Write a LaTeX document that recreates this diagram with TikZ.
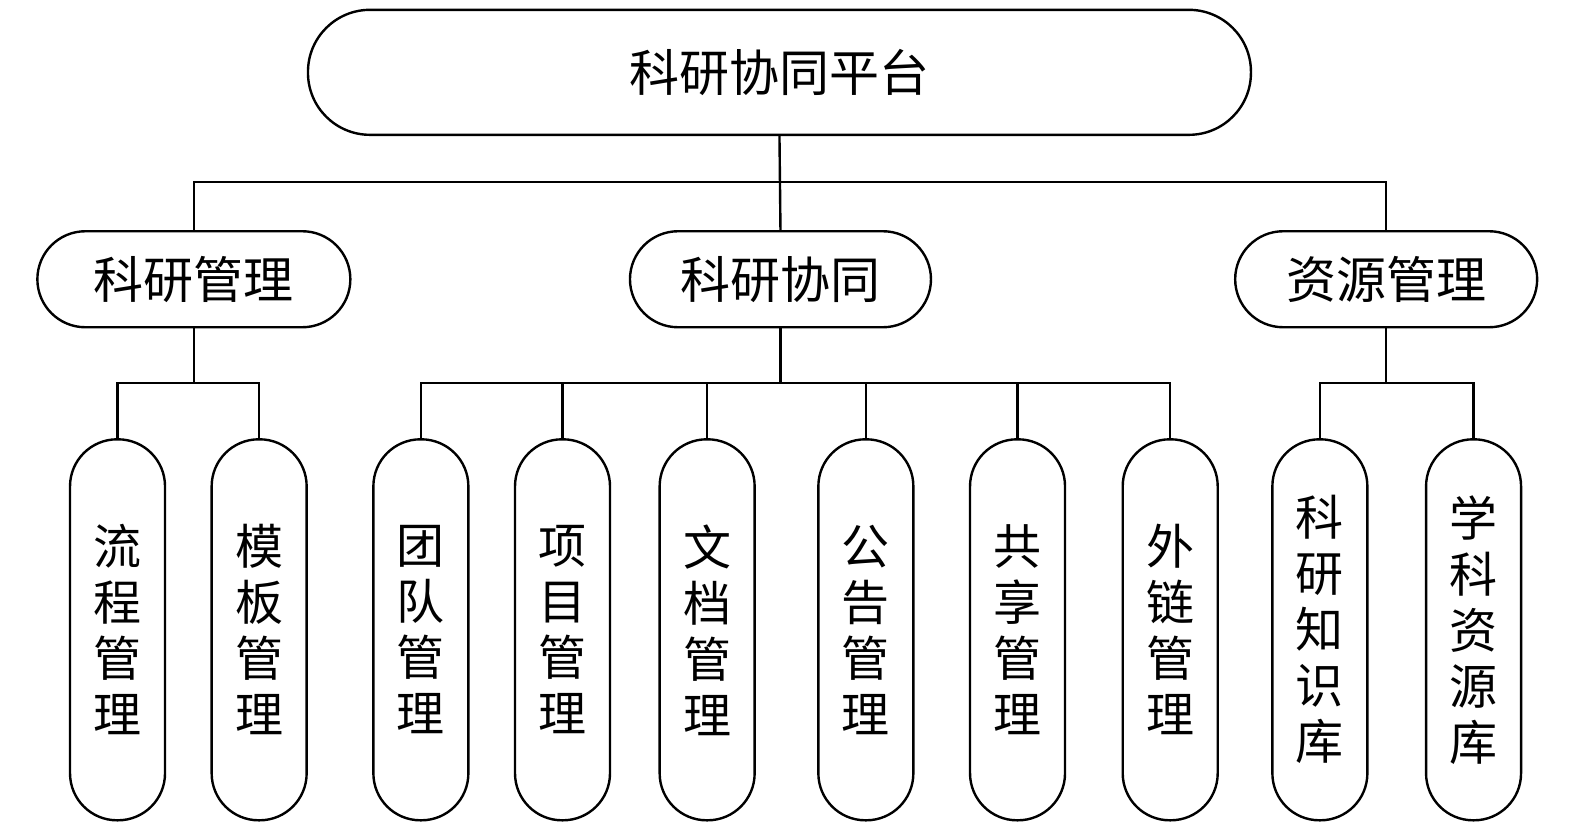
\documentclass[tikz,border=0pt]{standalone}
\usepackage{fontspec}
\newfontfamily\cjk{Noto Sans CJK SC}
\begin{document}
\begin{tikzpicture}[x=1.0045pt,y=-1.0045pt,
  line/.style={line width=2.4pt,black},
  topbox/.style={draw,line width=2.4pt,rounded corners=62pt,minimum width=943pt,minimum height=125pt,inner sep=0pt,font=\cjk\fontsize{50}{57}\selectfont},
  midbox/.style={draw,line width=2.4pt,rounded corners=48pt,minimum width=303pt,minimum height=96pt,inner sep=0pt,font=\cjk\fontsize{50}{57}\selectfont},
  leafbox/.style={draw,line width=2.4pt,rounded corners=47pt,minimum width=95pt,minimum height=381pt,inner sep=0pt,align=center,font=\cjk\fontsize{48}{56}\selectfont}
]
\useasboundingbox (0,0) rectangle (1568,826);
\node[topbox] (top) at (776,72) {科研协同平台};
\node[midbox,minimum width=313pt] (m1) at (193,278) {科研管理};
\node[midbox,minimum width=301pt] (m2) at (777,278) {科研协同};
\node[midbox,minimum width=302pt] (m3) at (1380,278) {资源管理};
\node[leafbox] (l1) at (117,627) {流\\程\\管\\理};
\node[leafbox] (l2) at (258,627) {模\\板\\管\\理};
\node[leafbox] (l3) at (419,627) {团\\队\\管\\理};
\node[leafbox] (l4) at (560,627) {项\\目\\管\\理};
\node[leafbox] (l5) at (704,627) {文\\档\\管\\理};
\node[leafbox] (l6) at (862,627) {公\\告\\管\\理};
\node[leafbox] (l7) at (1013,627) {共\\享\\管\\理};
\node[leafbox] (l8) at (1165,627) {外\\链\\管\\理};
\node[leafbox] (l9) at (1314,627) {科\\研\\知\\识\\库};
\node[leafbox] (l10) at (1467,627) {学\\科\\资\\源\\库};
\coordinate (b1) at (0,181);
\coordinate (b2) at (0,381);
% level 1
\draw[line] (top.south) -- (m2.north);
\draw[line] (m1.north) |- (m3.north |- b1) -- (m3.north);
% level 2
\draw[line] (m1.south) -- (m1.south |- b2);
\draw[line] (l1.north) |- (l2.north |- b2) -- (l2.north);
\draw[line] (m2.south) -- (m2.south |- b2);
\draw[line] (l3.north) |- (l8.north |- b2) -- (l8.north);
\draw[line] (l4.north) -- (l4.north |- b2);
\draw[line] (l5.north) -- (l5.north |- b2);
\draw[line] (l6.north) -- (l6.north |- b2);
\draw[line] (l7.north) -- (l7.north |- b2);
\draw[line] (m3.south) -- (m3.south |- b2);
\draw[line] (l9.north) |- (l10.north |- b2) -- (l10.north);
\end{tikzpicture}
\end{document}
